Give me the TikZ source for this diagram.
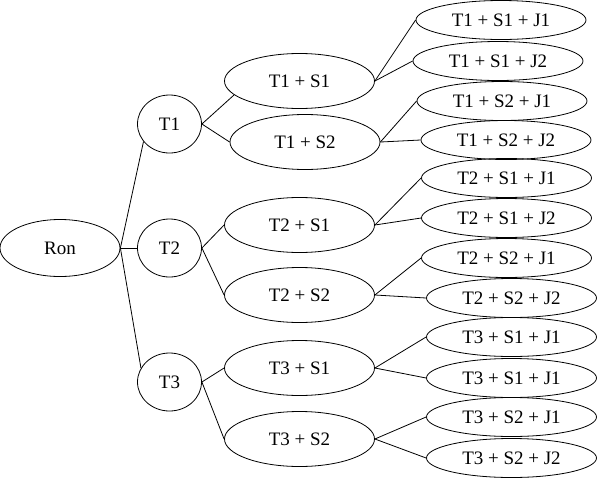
\documentclass[tikz,border=0pt]{standalone}
\usepackage{fontspec}
\setmainfont{Liberation Serif}
\usetikzlibrary{shapes.geometric}
\begin{document}
\begin{tikzpicture}[x=1pt,y=-1pt,
  every node/.style={draw,ellipse,inner sep=0pt,line width=0.8pt,font=\fontsize{19}{22}\selectfont},
  root/.style={minimum width=120pt,minimum height=57pt},
  tnode/.style={minimum width=64pt,minimum height=58pt},
  snode/.style={minimum width=150pt,minimum height=55pt},
  jnode/.style={minimum width=170pt,minimum height=39pt},
  edge/.style={line width=0.8pt}]
\useasboundingbox (0,0) rectangle (598,480);
\node[root] (Ron) at (60,248) {Ron};
\node[tnode] (T1) at (169.5,124) {T1};
\node[tnode] (T2) at (169.5,248) {T2};
\node[tnode] (T3) at (169.5,382) {T3};
\node[snode] (T1S1) at (299.5,81) {T1 + S1};
\node[snode] (T1S2) at (305,142) {T1 + S2};
\node[snode] (T2S1) at (299.5,225) {T2 + S1};
\node[snode] (T2S2) at (299.5,295) {T2 + S2};
\node[snode] (T3S1) at (299.5,368) {T3 + S1};
\node[snode] (T3S2) at (299.5,439) {T3 + S2};
\node[jnode] (a1) at (501,20) {T1 + S1 + J1};
\node[jnode] (a2) at (498,61) {T1 + S1 + J2};
\node[jnode] (a3) at (502,101) {T1 + S2 + J1};
\node[jnode] (a4) at (506,140) {T1 + S2 + J2};
\node[jnode] (b1) at (506.5,178) {T2 + S1 + J1};
\node[jnode] (b2) at (506.5,218) {T2 + S1 + J2};
\node[jnode] (b3) at (506.5,258) {T2 + S2 + J1};
\node[jnode] (b4) at (511.5,298) {T2 + S2 + J2};
\node[jnode] (c1) at (511.5,337) {T3 + S1 + J1};
\node[jnode] (c2) at (511.5,378) {T3 + S1 + J1};
\node[jnode] (c3) at (511.5,417) {T3 + S2 + J1};
\node[jnode] (c4) at (511.5,458) {T3 + S2 + J2};
\draw[edge] (Ron.east) -- (T1.214);
\draw[edge] (Ron.east) -- (T2.west);
\draw[edge] (Ron.east) -- (T3.154);
\draw[edge] (T1.east) -- (T1S1.192);
\draw[edge] (T1.east) -- (T1S2.west);
\draw[edge] (T2.east) -- (T2S1.west);
\draw[edge] (T2.east) -- (T2S2.west);
\draw[edge] (T3.east) -- (T3S1.west);
\draw[edge] (T3.east) -- (T3S2.west);
\draw[edge] (T1S1.east) -- (a1.west);
\draw[edge] (T1S1.east) -- (a2.west);
\draw[edge] (T1S2.east) -- (a3.west);
\draw[edge] (T1S2.east) -- (a4.west);
\draw[edge] (T2S1.east) -- (b1.west);
\draw[edge] (T2S1.east) -- (b2.west);
\draw[edge] (T2S2.east) -- (b3.west);
\draw[edge] (T2S2.east) -- (b4.west);
\draw[edge] (T3S1.east) -- (c1.west);
\draw[edge] (T3S1.east) -- (c2.west);
\draw[edge] (T3S2.east) -- (c3.west);
\draw[edge] (T3S2.east) -- (c4.west);
\end{tikzpicture}
\end{document}
